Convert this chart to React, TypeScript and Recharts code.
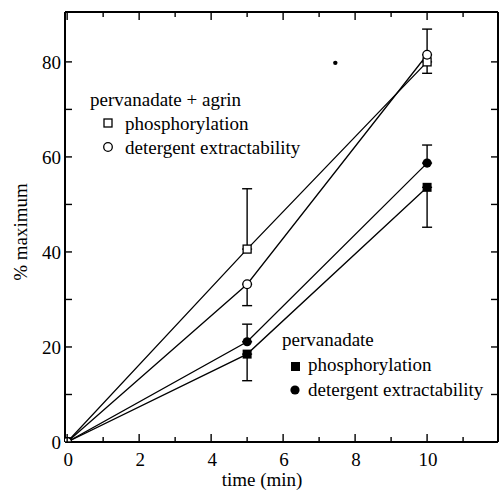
import React from 'react'
import { ComposedChart, Line, Scatter, XAxis, YAxis, ErrorBar } from 'recharts'

const times = [0, 5, 10]

// pervanadate + agrin
const agrinPhos = [0, 40.6, 80]
const agrinPhosErr: ([number, number] | null)[] = [null, [0, 12.7], [2.4, 0]]
const agrinExtract = [0, 33.2, 81.5]
const agrinExtractErr: ([number, number] | null)[] = [null, [4.5, 0], [0, 5.4]]

// pervanadate alone
const vanPhos = [0, 18.5, 53.6]
const vanPhosErr: ([number, number] | null)[] = [null, [5.6, 0], [8.4, 0]]
const vanExtract = [0, 21.1, 58.7]
const vanExtractErr: ([number, number] | null)[] = [null, [0, 3.7], [0, 3.8]]

const speck = [{ t: 7.45, v: 79.8 }]

const xTicks = [0, 1, 2, 3, 4, 5, 6, 7, 8, 9, 10, 11]
const xTickLabels = [0, 2, 4, 6, 8, 10]
const yTicks = [0, 10, 20, 30, 40, 50, 60, 70, 80]
const yTickLabels = [0, 20, 40, 60, 80]

const FONT = 'Liberation Serif'
const INK = '#000'
const txt = { style: { fontFamily: FONT, fontSize: 19 }, fill: INK }

function series(vals: number[], errs: ([number, number] | null)[]) {
  return times.map((t, i) => ({ t, v: vals[i], err: errs[i] ?? undefined }))
}

const openSquare = (p: any) => (
  <rect key={p.key} x={p.cx - 4} y={p.cy - 4} width={8} height={8} fill="#fff" stroke={INK} strokeWidth={1.3} />
)
const openCircle = (p: any) => (
  <circle key={p.key} cx={p.cx} cy={p.cy} r={4.3} fill="#fff" stroke={INK} strokeWidth={1.3} />
)
const solidSquare = (p: any) => (
  <rect key={p.key} x={p.cx - 4.5} y={p.cy - 4.5} width={9} height={9} fill={INK} />
)
const solidCircle = (p: any) => (
  <circle key={p.key} cx={p.cx} cy={p.cy} r={4.6} fill={INK} />
)

// ticks point into the plot; labels sit outside
const LeftTick = ({ x, y, payload }: any) => (
  <g>
    <line x1={x} y1={y} x2={x + 7} y2={y} stroke={INK} strokeWidth={1.4} />
    {yTickLabels.includes(payload.value) && (
      <text x={x - 4} y={y} dy="0.35em" textAnchor="end" {...txt}>
        {payload.value}
      </text>
    )}
  </g>
)
const RightTick = ({ x, y }: any) => (
  <line x1={x} y1={y} x2={x - 7} y2={y} stroke={INK} strokeWidth={1.4} />
)
const BottomTick = ({ x, y, payload }: any) => {
  const major = xTickLabels.includes(payload.value)
  return (
    <g>
      <line x1={x} y1={y} x2={x} y2={y - (major ? 8 : 5)} stroke={INK} strokeWidth={1.4} />
      {major && (
        <text x={x + 1} y={y + 24} textAnchor="middle" {...txt}>
          {payload.value}
        </text>
      )}
    </g>
  )
}
const TopTick = ({ x, y, payload }: any) => {
  const major = xTickLabels.includes(payload.value)
  return <line x1={x} y1={y} x2={x} y2={y + (major ? 8 : 5)} stroke={INK} strokeWidth={1.4} />
}

const axisLine = { stroke: INK, strokeWidth: 2 }

export default function App() {
  return (
    <div style={{ position: 'absolute', left: 0, top: 0, fontFamily: FONT }}>
      <style>{`svg text { font-family: 'Liberation Serif', 'Times New Roman', serif !important; }`}</style>
      <ComposedChart width={499} height={491} margin={{ top: 11, right: 0, bottom: 48, left: 64 }}>
        <XAxis
          xAxisId="b"
          type="number"
          dataKey="t"
          domain={[-0.06, 11.97]}
          ticks={xTicks}
          tick={<BottomTick />}
          tickLine={false}
          tickSize={0}
          tickMargin={0}
          height={1}
          axisLine={axisLine}
          allowDataOverflow
        />
        <XAxis
          xAxisId="top"
          orientation="top"
          type="number"
          dataKey="t"
          domain={[-0.06, 11.97]}
          ticks={xTicks}
          tick={<TopTick />}
          tickLine={false}
          tickSize={0}
          tickMargin={0}
          height={1}
          axisLine={axisLine}
          allowDataOverflow
        />
        <YAxis
          yAxisId="l"
          type="number"
          domain={[0, 90.5]}
          ticks={yTicks}
          tick={<LeftTick />}
          tickLine={false}
          tickSize={0}
          tickMargin={0}
          width={1}
          axisLine={axisLine}
          allowDataOverflow
        />
        <YAxis
          yAxisId="r"
          orientation="right"
          type="number"
          domain={[0, 90.5]}
          ticks={yTicks.slice(1)}
          tick={<RightTick />}
          tickLine={false}
          tickSize={0}
          tickMargin={0}
          width={1}
          axisLine={axisLine}
          allowDataOverflow
        />

        <Line xAxisId="b" yAxisId="l" data={series(agrinPhos, agrinPhosErr)} dataKey="v" stroke={INK} strokeWidth={1.3} dot={openSquare} isAnimationActive={false}>
          <ErrorBar dataKey="err" direction="y" width={5} stroke={INK} strokeWidth={1.4} />
        </Line>
        <Line xAxisId="b" yAxisId="l" data={series(agrinExtract, agrinExtractErr)} dataKey="v" stroke={INK} strokeWidth={1.3} dot={openCircle} isAnimationActive={false}>
          <ErrorBar dataKey="err" direction="y" width={5} stroke={INK} strokeWidth={1.4} />
        </Line>
        <Line xAxisId="b" yAxisId="l" data={series(vanPhos, vanPhosErr)} dataKey="v" stroke={INK} strokeWidth={1.3} dot={solidSquare} isAnimationActive={false}>
          <ErrorBar dataKey="err" direction="y" width={5} stroke={INK} strokeWidth={1.4} />
        </Line>
        <Line xAxisId="b" yAxisId="l" data={series(vanExtract, vanExtractErr)} dataKey="v" stroke={INK} strokeWidth={1.3} dot={solidCircle} isAnimationActive={false}>
          <ErrorBar dataKey="err" direction="y" width={5} stroke={INK} strokeWidth={1.4} />
        </Line>
        {/* origin marker drawn last so it sits on top */}
        <Scatter xAxisId="b" yAxisId="l" data={series(agrinExtract, agrinExtractErr).slice(0, 1)} dataKey="v" isAnimationActive={false}
          shape={(p: any) => <circle cx={p.cx} cy={p.cy} r={4.3} fill="#fff" stroke={INK} strokeWidth={1.3} />} />
        <Scatter xAxisId="b" yAxisId="l" data={speck} dataKey="v" fill={INK} isAnimationActive={false}
          shape={(p: any) => <circle cx={p.cx} cy={p.cy} r={2.2} fill={INK} />} />

        <text x={20} y={232} transform="rotate(-90 20 232)" textAnchor="middle" dy="0.35em" {...txt}>% maximum</text>
        <text x={262} y={486} textAnchor="middle" {...txt}>time (min)</text>

        <text x={90} y={106} {...txt}>pervanadate + agrin</text>
        <rect x={104} y={119} width={8} height={8} fill="#fff" stroke={INK} strokeWidth={1.3} />
        <text x={125} y={130} {...txt}>phosphorylation</text>
        <circle cx={108} cy={147} r={4.3} fill="#fff" stroke={INK} strokeWidth={1.3} />
        <text x={125} y={154} {...txt}>detergent extractability</text>

        <text x={282} y={346} {...txt}>pervanadate</text>
        <rect x={291} y={362} width={9} height={9} fill={INK} />
        <text x={308} y={371} {...txt}>phosphorylation</text>
        <circle cx={295} cy={390} r={4.6} fill={INK} />
        <text x={308} y={396} {...txt}>detergent extractability</text>
      </ComposedChart>
    </div>
  )
}
